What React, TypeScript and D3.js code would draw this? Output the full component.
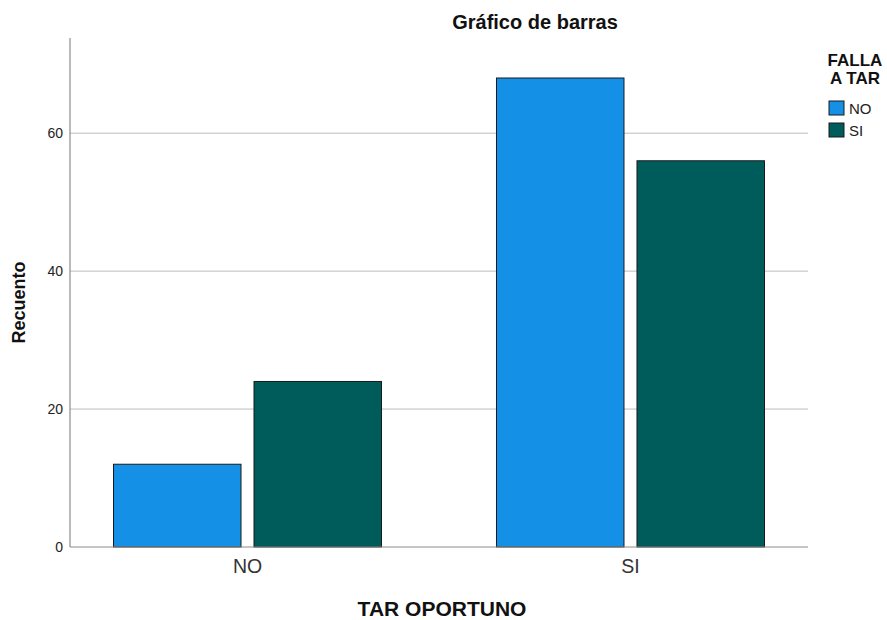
import React from "react";
import * as d3 from "d3";

const categories = ["NO", "SI"];
const series = ["NO", "SI"];
const valuesNO = [12, 68];
const valuesSI = [24, 56];
const yTicks = [0, 20, 40, 60];
const colors = ["#1490E6", "#005C5A"];

export default function App() {
  const W = 887, H = 620;
  const left = 70, right = 808, top = 38, bottom = 547;
  const y = d3.scaleLinear().domain([0, 73.8]).range([bottom, top]);
  const x = d3.scalePoint<string>().domain(categories).range([left, right]).padding(0.4635);
  const half = 134;
  const sub = d3.scaleBand<string>().domain(series).range([-half, half]).paddingInner(0.0925).paddingOuter(0);
  const data = categories.map((c, i) => ({ c, vals: [valuesNO[i], valuesSI[i]] }));
  const font = "'Liberation Sans', Arial, sans-serif";
  return (
    <svg width={W} height={H} style={{ position: "absolute", left: 0, top: 0 }} fontFamily={font}>
      <rect width={W} height={H} fill="#fff" />
      {yTicks.filter(t => t > 0).map(t => (
        <line key={t} x1={left} x2={right} y1={y(t)} y2={y(t)} stroke="#BDBDBD" strokeWidth={1} />
      ))}
      {data.map(d => d.vals.map((v, j) => (
        <rect key={d.c + j}
          x={(x(d.c) as number) + (sub(series[j]) as number)}
          y={y(v)}
          width={sub.bandwidth()}
          height={y(0) - y(v)}
          fill={colors[j]} stroke="#1a1a1a" strokeWidth={1} />
      )))}
      <line x1={left} x2={left} y1={top} y2={bottom} stroke="#8c8c8c" strokeWidth={1.2} />
      <line x1={left} x2={right} y1={bottom} y2={bottom} stroke="#8c8c8c" strokeWidth={1.2} />
      {yTicks.map(t => (
        <text key={t} x={left - 7} y={y(t) + 5} textAnchor="end" fontSize={14} fill="#222">{t}</text>
      ))}
      {categories.map(c => (
        <text key={c} x={x(c) as number} y={573} textAnchor="middle" fontSize={19.5} fill="#333">{c}</text>
      ))}
      <text x={442} y={616} textAnchor="middle" fontSize={21} fontWeight="bold" fill="#111">TAR OPORTUNO</text>
      <text transform={`translate(25,${(top + bottom) / 2 + 10}) rotate(-90)`} textAnchor="middle" fontSize={18} fontWeight="bold" fill="#111">Recuento</text>
      <text x={535} y={29} textAnchor="middle" fontSize={20} fontWeight="bold" fill="#111">Gráfico de barras</text>
      <text x={855} y={66} textAnchor="middle" fontSize={17} fontWeight="bold" fill="#111">FALLA</text>
      <text x={855} y={84} textAnchor="middle" fontSize={17} fontWeight="bold" fill="#111">A TAR</text>
      {series.map((s, j) => (
        <g key={s} transform={`translate(829,${101 + j * 22})`}>
          <rect width={15} height={14} fill={colors[j]} stroke="#1a1a1a" strokeWidth={1} />
          <text x={20} y={13} fontSize={15} fill="#222">{s}</text>
        </g>
      ))}
    </svg>
  );
}
